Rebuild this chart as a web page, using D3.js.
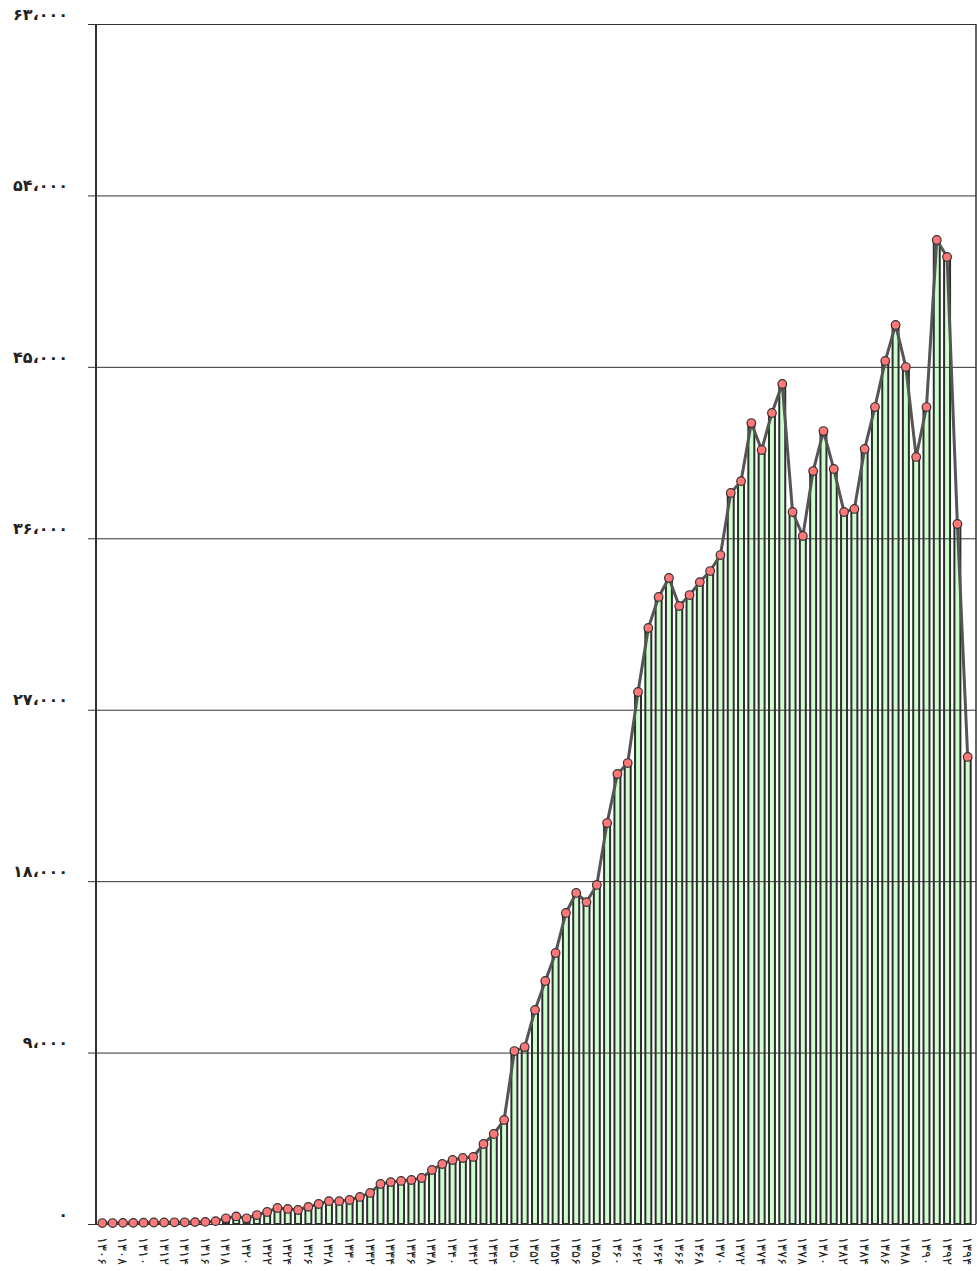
<!DOCTYPE html>
<html>
<head>
<meta charset="utf-8">
<script src="https://cdn.jsdelivr.net/npm/d3@7"></script>
<style>
  html, body { margin: 0; padding: 0; background: #fff; }
  svg { display: block; }
</style>
</head>
<body>
<svg id="chart" width="978" height="1271"></svg>
<script>
const years = [
  "1306","1307","1308","1309","1310","1311","1312","1313","1314","1315",
  "1316","1317","1318","1319","1320","1321","1322","1323","1324","1325",
  "1326","1327","1328","1329","1330","1331","1332","1333","1334","1335",
  "1336","1337","1338","1339","1340","1341","1342","1343","1344","1345",
  "1350","1351","1352","1353","1354","1355","1356","1357","1358","1359",
  "1360","1361","1362","1363","1364","1365","1366","1367","1368","1369",
  "1370","1371","1372","1373","1374","1375","1376","1377","1378","1379",
  "1380","1381","1382","1383","1384","1385","1386","1387","1388","1389",
  "1390","1391","1392","1393","1394"
];
const values = [
  50,50,60,60,70,80,80,90,90,100,
  110,150,300,400,300,470,630,840,790,735,
  900,1050,1200,1200,1260,1420,1630,2100,2200,2260,
  2310,2415,2835,3150,3360,3465,3520,4200,4725,5460,
  9080,9290,11235,12760,14230,16330,17380,16900,17800,21050,
  23625,24200,27930,31290,32920,33915,32445,33020,33700,34280,
  35120,38380,39000,42050,40635,42580,44100,37380,36120,39530,
  41630,39640,37380,37540,40690,42890,45310,47200,44990,40270,
  42890,51660,50770,36750,24520
];
const yTicks = [0, 9000, 18000, 27000, 36000, 45000, 54000, 63000];

const faDigits = "۰۱۲۳۴۵۶۷۸۹";
const toFa = s => String(s).replace(/[0-9]/g, d => faDigits[+d]);
const fmtY = v => toFa(d3.format(",")(v)).replace(/,/g, "،");

const svg = d3.select("#chart");
const plotL = 96, plotR = 976, plotT = 24, plotB = 1224;

const x = d3.scaleBand().domain(years).range([95, 975]).padding(0.42);
const y = d3.scaleLinear().domain([0, 63000]).range([plotB, plotT]);
const cx = d => x(d) + x.bandwidth() / 2;

// bars
svg.append("g").selectAll("rect").data(years).join("rect")
  .attr("x", d => x(d))
  .attr("width", x.bandwidth())
  .attr("y", (d, i) => y(values[i]))
  .attr("height", (d, i) => plotB - y(values[i]))
  .attr("fill", "#ccffcc")
  .attr("stroke", "#2e2e2e")
  .attr("stroke-width", 2);

// gridlines + tick marks
const yAxis = d3.axisLeft(y).tickValues(yTicks).tickSize(-(plotR - plotL)).tickPadding(28).tickFormat(fmtY);
const gy = svg.append("g").attr("transform", `translate(${plotL},0)`).call(yAxis);
gy.select(".domain").remove();
gy.selectAll(".tick line").attr("stroke", "#333").attr("stroke-width", 1).attr("x1", -8);
gy.selectAll(".tick text")
  .attr("font-family", "DejaVu Sans, sans-serif")
  .attr("font-size", 16)
  .attr("font-weight", "bold")
  .attr("fill", "#222")
  .attr("dy", "-0.3em");

// frame
svg.append("line").attr("x1", plotL).attr("x2", plotL).attr("y1", plotT).attr("y2", plotB)
  .attr("stroke", "#333").attr("stroke-width", 2);
svg.append("line").attr("x1", plotR).attr("x2", plotR).attr("y1", plotT).attr("y2", plotB)
  .attr("stroke", "#333").attr("stroke-width", 1.5);

// line
const line = d3.line().x(d => cx(d)).y((d, i) => y(values[i]));
svg.append("path").datum(years)
  .attr("d", line)
  .attr("fill", "none")
  .attr("stroke", "#555")
  .attr("stroke-width", 3)
  .attr("stroke-linejoin", "round");

// points
svg.append("g").selectAll("circle").data(years).join("circle")
  .attr("cx", d => cx(d))
  .attr("cy", (d, i) => y(values[i]))
  .attr("r", 4.3)
  .attr("fill", "#ff7777")
  .attr("stroke", "#333")
  .attr("stroke-width", 1.2);

// x labels (every other category)
const xAxis = d3.axisBottom(x).tickValues(years.filter((d, i) => i % 2 === 0)).tickSize(0).tickFormat(toFa);
const gx = svg.append("g").attr("transform", `translate(0,${plotB})`).call(xAxis);
gx.select(".domain").remove();
gx.selectAll(".tick text")
  .attr("font-family", "DejaVu Sans, sans-serif")
  .attr("font-size", 13)
  .attr("fill", "#222")
  .attr("direction", "ltr")
  .attr("transform", "rotate(90)")
  .attr("text-anchor", "start")
  .attr("x", 13)
  .attr("y", 0)
  .attr("dy", "0.35em");
</script>
</body>
</html>
